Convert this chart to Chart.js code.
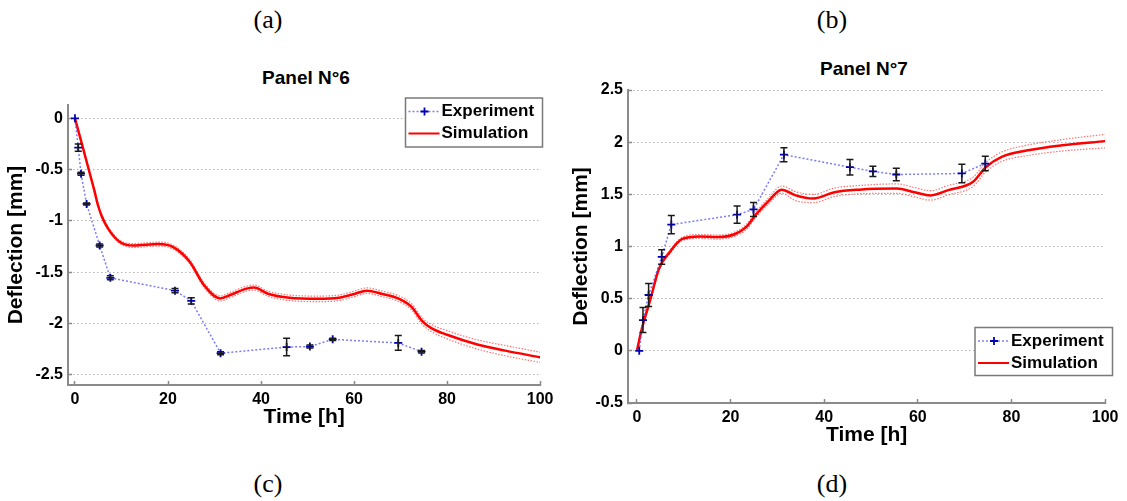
<!DOCTYPE html>
<html>
<head>
<meta charset="utf-8">
<title>Panel deflection</title>
<script src="https://cdn.jsdelivr.net/npm/chart.js@4.4.1/dist/chart.umd.min.js"></script>
<style>
  html, body { margin: 0; padding: 0; background: #fff; }
  body { width: 1127px; height: 501px; position: relative; overflow: hidden; }
  canvas { position: absolute; top: 0; }
  #chart6 { left: 0; }
  #chart7 { left: 565px; }
  .fig-label {
    position: absolute; transform: translate(-50%, -50%); line-height: 1;
    font-family: "Liberation Serif", "Times New Roman", serif; font-size: 26px; color: #000;
  }
  .panel-title {
    position: absolute; transform: translate(-50%, -50%); line-height: 1; white-space: nowrap;
    font-family: "Liberation Sans", Arial, sans-serif; font-weight: bold; font-size: 19px; color: #000;
  }
</style>
</head>
<body>
<div class="fig-label" style="left:268px; top:20px">(a)</div>
<div class="fig-label" style="left:832px; top:20px">(b)</div>
<div class="fig-label" style="left:268px; top:484px">(c)</div>
<div class="fig-label" style="left:832px; top:484px">(d)</div>
<div class="panel-title" style="left:306px; top:77px">Panel N°6</div>
<div class="panel-title" style="left:864px; top:68px">Panel N°7</div>

<canvas id="chart6" width="562" height="435"></canvas>
<canvas id="chart7" width="562" height="453"></canvas>

<script>
// =============================================================================
// DATA
// =============================================================================

const xTicks = [0, 20, 40, 60, 80, 100];
const yTicks6 = [-2.5, -2, -1.5, -1, -0.5, 0];
const yTicks7 = [-0.5, 0, 0.5, 1, 1.5, 2, 2.5];

// Panel N°6 - experiment (time [h], deflection [mm], error bar half height)
const expTime6 = [0, 0.7, 1.3, 2.5, 5.3, 7.6, 21.5, 25.0, 31.3, 45.5, 50.5, 55.4, 69.5, 74.5];
const expDefl6 = [0, -0.285, -0.54, -0.835, -1.24, -1.555, -1.68, -1.78, -2.29, -2.23, -2.225, -2.155, -2.19, -2.275];
const expErr6 = [0, 0.035, 0.015, 0.01, 0.015, 0.02, 0.02, 0.03, 0.015, 0.085, 0.015, 0.012, 0.072, 0.012];

// Panel N°6 - simulation with its dotted envelope
const simTime6 = [0, 1.7, 3.2, 4.2, 4.9, 5.8, 7.2, 9.5, 12.6, 17.9, 21.3, 24.7, 27.8, 31.2, 33.5, 36.9,
  38.5, 41.5, 46.1, 52.2, 56.7, 59.8, 62.8, 65.9, 69.7, 72.4, 74.6, 76.6, 80, 86.5, 92.5, 100];
const simDefl6 = [0, -0.285, -0.54, -0.71, -0.84, -0.96, -1.08, -1.2, -1.24, -1.226, -1.26, -1.40, -1.63, -1.756, -1.72, -1.66,
  -1.65, -1.71, -1.75, -1.76, -1.75, -1.715, -1.68, -1.71, -1.76, -1.84, -1.975, -2.045, -2.11, -2.205, -2.265, -2.33];
const simHigh6 = [0, -0.275, -0.528, -0.695, -0.825, -0.945, -1.065, -1.185, -1.222, -1.206, -1.24, -1.38, -1.608, -1.731, -1.695, -1.635,
  -1.625, -1.685, -1.723, -1.733, -1.723, -1.688, -1.653, -1.683, -1.732, -1.81, -1.943, -2.01, -2.07, -2.16, -2.215, -2.28];
const simLow6 = [0, -0.295, -0.552, -0.725, -0.855, -0.975, -1.095, -1.215, -1.258, -1.246, -1.28, -1.42, -1.652, -1.781, -1.745, -1.685,
  -1.675, -1.735, -1.777, -1.787, -1.777, -1.742, -1.707, -1.737, -1.788, -1.87, -2.007, -2.08, -2.15, -2.25, -2.315, -2.38];

// Panel N°7 - experiment
const expTime7 = [0.5, 1.3, 2.5, 5.3, 7.35, 21.4, 24.9, 31.4, 45.5, 50.4, 55.4, 69.4, 74.4];
const expDefl7 = [0, 0.295, 0.535, 0.90, 1.21, 1.305, 1.355, 1.88, 1.76, 1.72, 1.69, 1.70, 1.795];
const expErr7 = [0, 0.12, 0.11, 0.07, 0.087, 0.083, 0.067, 0.067, 0.074, 0.05, 0.06, 0.088, 0.07];

// Panel N°7 - simulation with its dotted envelope
const simTime7 = [0, 1.1, 2.8, 4.7, 7.0, 9.6, 13.4, 17.2, 21, 23.3, 25.5, 28.2, 30.9, 33.9,
  37.7, 42.2, 47.5, 55.5, 59.3, 62.7, 66.5, 71.8, 74.5, 77.9, 83.2, 90.8, 100];
const simDefl7 = [0, 0.22, 0.48, 0.785, 0.945, 1.07, 1.096, 1.09, 1.12, 1.185, 1.31, 1.44, 1.545, 1.49,
  1.46, 1.52, 1.545, 1.555, 1.52, 1.49, 1.54, 1.62, 1.76, 1.86, 1.92, 1.97, 2.01];
const simHigh7 = [0, 0.23, 0.495, 0.8, 0.96, 1.085, 1.115, 1.11, 1.14, 1.21, 1.335, 1.47, 1.58, 1.525,
  1.5, 1.56, 1.585, 1.6, 1.565, 1.535, 1.585, 1.665, 1.805, 1.905, 1.97, 2.025, 2.075];
const simLow7 = [0, 0.21, 0.465, 0.77, 0.93, 1.055, 1.077, 1.07, 1.1, 1.16, 1.285, 1.41, 1.51, 1.44,
  1.42, 1.48, 1.505, 1.51, 1.475, 1.445, 1.495, 1.575, 1.715, 1.815, 1.87, 1.915, 1.945];

// =============================================================================
// STYLE
// =============================================================================

const FONT = '"Liberation Sans", Arial, sans-serif';
const COLORS = {
  expLine: 'rgba(80, 80, 255, 0.75)',
  expMarker: '#0000b4',
  errBar: '#1a1a1a',
  sim: '#ff0000',
  simBand: 'rgba(255, 70, 70, 0.75)',
  axis: '#8a8a8a',
  grid: '#b4b4b4'
};

Chart.defaults.font.family = FONT;
Chart.defaults.color = '#000';

const toPoints = (xs, ys) => xs.map((x, i) => ({ x: x, y: ys[i] }));

// =============================================================================
// PLUGINS
// =============================================================================

// Vertical error bars with caps, using the dataset's "errors" array
const errorBarPlugin = {
  id: 'errorBars',
  afterDatasetsDraw(chart) {
    const ctx = chart.ctx;
    const yScale = chart.scales.y;
    chart.data.datasets.forEach((ds, di) => {
      if (!ds.errors) return;
      const meta = chart.getDatasetMeta(di);
      ctx.save();
      ctx.strokeStyle = COLORS.errBar;
      ctx.lineWidth = 1.5;
      meta.data.forEach((pt, i) => {
        const err = ds.errors[i];
        if (!err) return;
        const v = ds.data[i].y;
        const yTop = yScale.getPixelForValue(v + err);
        const yBot = yScale.getPixelForValue(v - err);
        ctx.beginPath();
        ctx.moveTo(pt.x, yTop); ctx.lineTo(pt.x, yBot);
        ctx.moveTo(pt.x - 3.5, yTop); ctx.lineTo(pt.x + 3.5, yTop);
        ctx.moveTo(pt.x - 3.5, yBot); ctx.lineTo(pt.x + 3.5, yBot);
        ctx.stroke();
      });
      ctx.restore();
    });
  }
};

// MATLAB style boxed legend at a fixed spot of the canvas
const boxLegendPlugin = {
  id: 'boxLegend',
  afterDraw(chart, args, opts) {
    const ctx = chart.ctx;
    const { left, top, width, height } = opts;
    ctx.save();
    ctx.fillStyle = '#fff';
    ctx.fillRect(left, top, width, height);
    ctx.strokeStyle = '#7a7a7a';
    ctx.lineWidth = 1.5;
    ctx.strokeRect(left, top, width, height);

    const row1 = top + 13.5;
    const row2 = top + 35.5;

    // Experiment sample
    ctx.strokeStyle = COLORS.expLine;
    ctx.lineWidth = 1.5;
    ctx.setLineDash([2, 2]);
    ctx.beginPath(); ctx.moveTo(left + 3, row1); ctx.lineTo(left + 34, row1); ctx.stroke();
    ctx.setLineDash([]);
    ctx.strokeStyle = COLORS.expMarker;
    ctx.lineWidth = 1.8;
    ctx.beginPath();
    ctx.moveTo(left + 19 - 4, row1); ctx.lineTo(left + 19 + 4, row1);
    ctx.moveTo(left + 19, row1 - 4); ctx.lineTo(left + 19, row1 + 4);
    ctx.stroke();

    // Simulation sample
    ctx.strokeStyle = COLORS.sim;
    ctx.lineWidth = 2;
    ctx.beginPath(); ctx.moveTo(left + 3, row2); ctx.lineTo(left + 34, row2); ctx.stroke();

    ctx.fillStyle = '#000';
    ctx.font = 'bold 17px ' + FONT;
    ctx.textBaseline = 'middle';
    ctx.textAlign = 'left';
    ctx.fillText('Experiment', left + 36, row1);
    ctx.fillText('Simulation', left + 36, row2);
    ctx.restore();
  }
};

// =============================================================================
// CHART BUILDER
// =============================================================================

function makePanelChart(canvasId, cfg) {
  const ctx = document.getElementById(canvasId).getContext('2d');
  const bandStyle = {
    borderColor: COLORS.simBand,
    borderWidth: 1.2,
    borderDash: [1.5, 1.5],
    pointRadius: 0,
    fill: false,
    cubicInterpolationMode: 'monotone'
  };

  return new Chart(ctx, {
    type: 'line',
    data: {
      datasets: [
        {
          label: 'Experiment',
          data: toPoints(cfg.expTime, cfg.expDefl),
          errors: cfg.expErr,
          borderColor: COLORS.expLine,
          borderWidth: 1.5,
          borderDash: [2, 2],
          pointStyle: 'cross',
          pointRadius: 4,
          pointBorderColor: COLORS.expMarker,
          pointBorderWidth: 1.8,
          fill: false,
          tension: 0
        },
        {
          label: 'Simulation',
          data: toPoints(cfg.simTime, cfg.simDefl),
          borderColor: COLORS.sim,
          borderWidth: 2.5,
          pointRadius: 0,
          fill: false,
          cubicInterpolationMode: 'monotone'
        },
        { label: 'Upper', data: toPoints(cfg.simTime, cfg.simHigh), ...bandStyle },
        { label: 'Lower', data: toPoints(cfg.simTime, cfg.simLow), ...bandStyle }
      ]
    },
    options: {
      responsive: false,
      animation: false,
      events: [],
      layout: { padding: cfg.padding },
      plugins: {
        legend: { display: false },
        tooltip: { enabled: false },
        boxLegend: cfg.legend
      },
      scales: {
        x: {
          type: 'linear',
          min: cfg.xMin,
          max: 100,
          afterBuildTicks: (axis) => { axis.ticks = xTicks.map(v => ({ value: v })); },
          afterFit: (axis) => { axis.height = 50; },
          grid: {
            drawOnChartArea: false,
            drawTicks: true,
            tickLength: -4,
            tickColor: COLORS.axis,
            tickWidth: 1.5
          },
          border: { display: true, color: COLORS.axis, width: 2 },
          ticks: {
            color: '#000',
            font: { size: 16, weight: 'bold' },
            padding: 8.5,
            maxRotation: 0,
            callback: (val) => String(val)
          },
          title: {
            display: true,
            text: 'Time [h]',
            color: '#000',
            font: { size: 21, weight: 'bold' },
            padding: { top: 0, bottom: 5 }
          }
        },
        y: {
          type: 'linear',
          min: cfg.yMin,
          max: cfg.yMax,
          afterBuildTicks: (axis) => { axis.ticks = cfg.yTicks.map(v => ({ value: v })); },
          afterFit: (axis) => { axis.width = cfg.yAxisWidth; },
          grid: {
            color: COLORS.grid,
            lineWidth: 1,
            drawTicks: true,
            tickLength: -4,
            tickColor: COLORS.axis,
            tickWidth: 1.5
          },
          border: { display: true, color: COLORS.axis, width: 2, dash: [1.5, 2.5] },
          ticks: {
            color: '#000',
            font: { size: 16, weight: 'bold' },
            padding: 9,
            callback: (val) => String(val)
          },
          title: {
            display: true,
            text: 'Deflection [mm]',
            color: '#000',
            font: { size: 21, weight: 'bold' },
            padding: { top: 4, bottom: 0 }
          }
        }
      }
    },
    plugins: [errorBarPlugin, boxLegendPlugin]
  });
}

// =============================================================================
// INIT
// =============================================================================

makePanelChart('chart6', {
  expTime: expTime6, expDefl: expDefl6, expErr: expErr6,
  simTime: simTime6, simDefl: simDefl6, simHigh: simHigh6, simLow: simLow6,
  xMin: -1.5, yMin: -2.6, yMax: 0.13, yTicks: yTicks6,
  yAxisWidth: 68,
  padding: { top: 105, left: 0, right: 16, bottom: 0 },
  legend: { left: 405.5, top: 98, width: 137, height: 49 }
});

makePanelChart('chart7', {
  expTime: expTime7, expDefl: expDefl7, expErr: expErr7,
  simTime: simTime7, simDefl: simDefl7, simHigh: simHigh7, simLow: simLow7,
  xMin: -1.9, yMin: -0.5, yMax: 2.5, yTicks: yTicks7,
  yAxisWidth: 63,
  padding: { top: 90, left: 0, right: 19, bottom: 0 },
  legend: { left: 410, top: 327.5, width: 137.5, height: 48 }
});
</script>
</body>
</html>
